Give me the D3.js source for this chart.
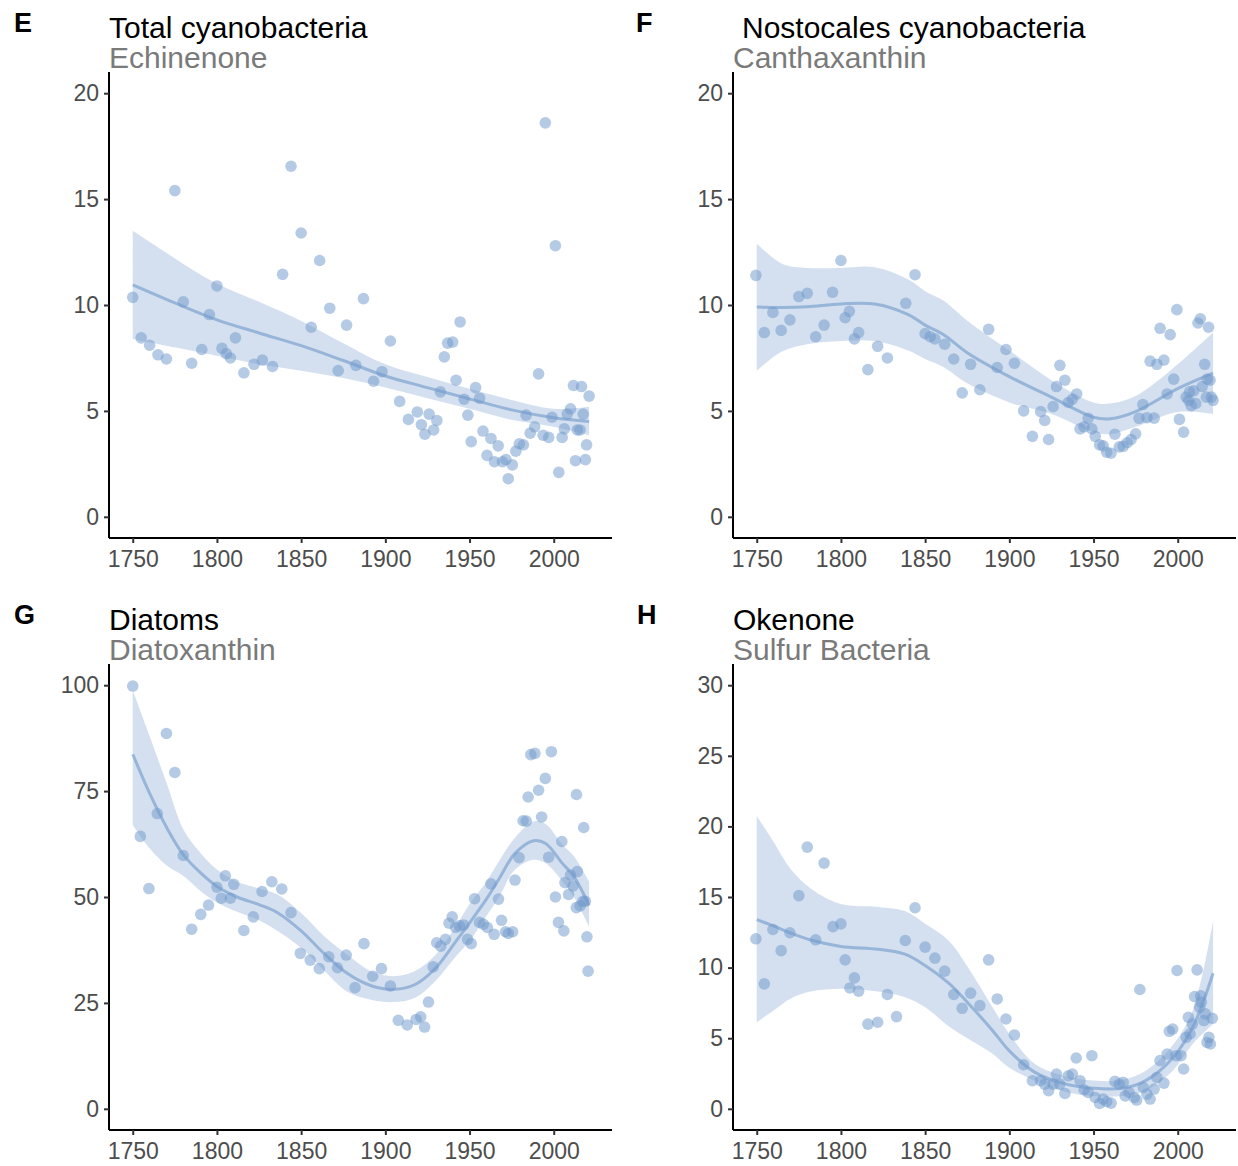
<!DOCTYPE html>
<html>
<head>
<meta charset="utf-8">
<script src="https://cdn.jsdelivr.net/npm/d3@7"></script>
<style>
  body { margin: 0; background: #fff; }
  text { font-family: "Liberation Sans", Arial, Helvetica, sans-serif; }
</style>
</head>
<body>
<svg width="1238" height="1166"></svg>
<script>
/* data: year and pigment value for each sample */

// E: total cyanobacteria / echinenone
let eYears = [1750, 1755, 1760, 1765, 1770, 1775, 1780, 1785, 1791, 1795.5, 1800, 1803, 1805.6, 1808, 1811,
  1816, 1822, 1827, 1833, 1839, 1844, 1850, 1856, 1861, 1867, 1872, 1877, 1882.5, 1887, 1893, 1898, 1903,
  1908.5, 1913.7, 1919, 1921.4, 1923.5, 1926, 1928.7, 1930.6, 1932.7, 1935, 1937, 1940, 1942, 1944.4, 1946.8,
  1949, 1951, 1953.6, 1956, 1958, 1960.4, 1962.7, 1964.8, 1967, 1969.5, 1971.6, 1973, 1975.4, 1977.5, 1979.6,
  1982, 1983.6, 1986, 1988.7, 1991, 1993.7, 1995, 1997, 1999, 2001, 2003, 2005, 2006.3, 2008, 2010, 2011.7,
  2012.9, 2014, 2015.6, 2016.5, 2017.5, 2018.8, 2019.5, 2021];
let eValues = [10.36, 8.45, 8.1, 7.65, 7.45, 15.4, 10.15, 7.25, 7.9, 9.55, 10.9, 7.95, 7.7, 7.5, 8.45,
  6.8, 7.2, 7.4, 7.1, 11.45, 16.55, 13.4, 8.95, 12.1, 9.85, 6.9, 9.05, 7.15, 10.3, 6.4, 6.85, 8.3,
  5.45, 4.6, 4.95, 4.35, 3.9, 4.85, 4.1, 4.55, 5.9, 7.55, 8.2, 8.25, 6.45, 9.2, 5.55,
  4.8, 3.55, 6.1, 5.6, 4.05, 2.9, 3.7, 2.6, 3.35, 2.6, 2.7, 1.8, 2.45, 3.1, 3.45,
  3.4, 4.8, 3.95, 4.25, 6.75, 3.85, 18.6, 3.75, 4.7, 12.8, 2.1, 3.75, 4.15, 4.85, 5.1, 6.2,
  2.65, 4.1, 4.1, 6.15, 4.85, 2.7, 3.4, 5.7];
let eSmoothYears = [1750, 1775, 1800, 1825, 1850, 1875, 1900, 1925, 1950, 1975, 2000, 2021];
let eFit  = [10.95, 10.1, 9.3, 8.68, 8.08, 7.38, 6.65, 6.1, 5.57, 5.05, 4.68, 4.5];
let eLow  = [8.4, 8.0, 7.6, 7.2, 6.9, 6.55, 6.1, 5.6, 5.1, 4.58, 4.25, 3.85];
let eHigh = [13.5, 12.2, 11.0, 10.15, 9.25, 8.2, 7.2, 6.6, 6.05, 5.52, 5.1, 5.2];

// F: nostocales cyanobacteria / canthaxanthin
let fYears = [1749.5, 1754.5, 1759.6, 1764.5, 1769.7, 1775, 1780, 1785, 1790, 1795, 1800, 1802.5, 1805, 1808,
  1810.5, 1816, 1821.8, 1827.6, 1838.5, 1844, 1850, 1853, 1855.8, 1861.6, 1867, 1872, 1877, 1882.5, 1887.7,
  1892.8, 1898, 1903, 1908.5, 1913.7, 1918.6, 1921, 1923.3, 1926, 1928, 1930, 1933, 1935, 1937.4, 1940, 1942,
  1944.4, 1946.8, 1949, 1951, 1953.6, 1955.7, 1957.8, 1960.4, 1962.7, 1965.3, 1967.6, 1970, 1972.3, 1975, 1977,
  1979.3, 1981.7, 1983.6, 1986, 1987.6, 1989.5, 1991.8, 1993.7, 1995.5, 1997.6, 1999.5, 2001, 2003.5, 2005,
  2006.5, 2007, 2008, 2009.5, 2010.7, 2012, 2013.4, 2014.5, 2016, 2017, 2017.5, 2018.3, 2019.2, 2020, 2021];
let fValues = [11.4, 8.7, 9.65, 8.8, 9.3, 10.4, 10.55, 8.5, 9.05, 10.6, 12.1, 9.4, 9.7, 8.4,
  8.7, 6.95, 8.05, 7.5, 10.08, 11.43, 8.65, 8.5, 8.4, 8.15, 7.45, 5.85, 7.2, 6.0, 8.85,
  7.05, 7.9, 7.25, 5.0, 3.8, 4.97, 4.55, 3.65, 5.2, 6.15, 7.15, 6.45, 5.4, 5.55, 5.8, 4.15,
  4.25, 4.65, 4.15, 3.8, 3.4, 3.35, 3.05, 3.0, 3.9, 3.3, 3.33, 3.5, 3.65, 3.92, 4.65,
  5.3, 4.68, 7.35, 4.66, 7.2, 8.9, 7.4, 5.8, 8.6, 6.5, 9.78, 4.6, 4.0, 5.65,
  5.5, 5.9, 5.25, 5.95, 5.35, 9.15, 9.35, 6.15, 7.2, 5.65, 6.5, 8.95, 6.45, 5.65, 5.5];
let fSmoothYears = [1750, 1765, 1780, 1800, 1820, 1840, 1850, 1861, 1875, 1900, 1925, 1950, 1960, 1975, 2000, 2021];
let fFit  = [9.9, 9.88, 9.92, 10.05, 10.05, 9.55, 9.05, 8.6, 7.75, 6.62, 5.65, 4.7, 4.63, 4.97, 6.05, 6.78];
let fLow  = [6.9, 7.8, 8.15, 8.3, 8.3, 7.85, 7.45, 7.06, 6.3, 5.4, 4.85, 4.0, 3.9, 4.25, 4.95, 4.85];
let fHigh = [12.9, 11.95, 11.75, 11.75, 11.78, 11.2, 10.65, 10.2, 9.26, 7.85, 6.45, 5.4, 5.35, 5.7, 7.2, 8.7];

// G: diatoms / diatoxanthin
let gYears = [1750, 1754.5, 1759.6, 1764.6, 1770, 1775, 1780, 1785, 1790.4, 1795, 1800, 1802.6, 1805, 1808,
  1810, 1816, 1821.6, 1826.8, 1832.6, 1838.5, 1844, 1849.5, 1855.4, 1860.8, 1866.4, 1871.6, 1876.8, 1882,
  1887.3, 1892.5, 1897.7, 1903, 1907.7, 1913, 1918.3, 1921, 1923.3, 1925.6, 1928.4, 1930.5, 1932.9, 1935.7,
  1937.8, 1939.7, 1941.8, 1944, 1946.5, 1948.8, 1951, 1953, 1955.9, 1958.2, 1960.6, 1962.7, 1964.6, 1967.2,
  1969, 1971.4, 1973, 1975.6, 1977, 1979.4, 1981.8, 1983.7, 1984.8, 1986.4, 1988.8, 1991, 1992.8, 1995, 1997,
  1998.6, 2001, 2002.8, 2004.8, 2006, 2006.7, 2008.8, 2010, 2011.5, 2013.4, 2013.5, 2014, 2015.7, 2017.4,
  2017.8, 2018.8, 2019.7, 2020.4];
let gValues = [99.8, 64.3, 52, 69.7, 88.6, 79.4, 59.8, 42.4, 45.9, 48.1, 52.3, 49.7, 55, 49.7,
  53, 42.1, 45.3, 51.3, 53.6, 51.9, 46.3, 36.7, 35.1, 33.1, 35.9, 33.3, 36.3, 28.6,
  39, 31.3, 33.1, 29, 20.9, 19.8, 21.1, 21.7, 19.3, 25.2, 33.5, 39.2, 38.4, 40,
  43.8, 45.3, 42.8, 43.2, 43.4, 40, 39, 49.6, 44, 43.6, 42.8, 53.1, 41.2, 49.5,
  44.5, 41.8, 41.4, 41.8, 54, 59.3, 68, 67.9, 73.6, 83.6, 83.9, 75.2, 68.9, 78, 59.4,
  84.3, 50, 44, 63.1, 42, 53.4, 50.6, 55.2, 52.6, 47.5, 74.2, 56, 47.9, 49,
  66.4, 49, 40.6, 32.5];
let gSmoothYears = [1750, 1760, 1770, 1780, 1790, 1800, 1812, 1825, 1836, 1850, 1864, 1878, 1892, 1905, 1918,
  1930, 1942, 1950, 1960, 1968, 1977, 1988, 1995, 2005, 2012, 2021];
let gFit  = [83.7, 74.5, 66.5, 60, 55.8, 52.5, 50, 48.2, 46.3, 42, 36.5, 31.8, 29, 28.2, 29.4,
  33.3, 39.6, 43.9, 49.5, 54.6, 60.3, 63.3, 62.7, 58, 54.8, 48];
let gLow  = [67, 61.5, 57.5, 55, 51.5, 48.7, 46.5, 44.5, 42, 38, 32.5, 27.5, 25.7, 25.2, 26.3,
  30.3, 36, 39.6, 45.5, 50.3, 56.5, 58.8, 58, 53.8, 50, 43];
let gHigh = [98.8, 88, 77, 66, 60.5, 56.5, 53.6, 52, 50.6, 46.2, 40.6, 36.2, 32.4, 31.3, 32.6,
  36.4, 43.3, 48.3, 53.6, 58.8, 64, 67.8, 67.3, 62.4, 59.6, 53.6];

// H: okenone / sulfur bacteria
let hYears = [1749.5, 1754.5, 1759.6, 1764.5, 1769.7, 1775, 1780, 1785, 1790, 1795.3, 1800, 1802.5, 1805.3,
  1808, 1810.5, 1816, 1821.8, 1827.6, 1833, 1838.2, 1844, 1850, 1855.8, 1861.6, 1867, 1872, 1877, 1882.5,
  1887.7, 1892.8, 1898, 1903, 1908.5, 1913.7, 1918.6, 1921, 1923.3, 1926, 1928, 1930, 1933, 1935, 1937.4,
  1939.7, 1942, 1944.4, 1946.8, 1949, 1951, 1953.6, 1955.7, 1957.8, 1960.4, 1962.7, 1965.3, 1967.6, 1968.8,
  1971, 1974.2, 1975.6, 1977.5, 1979.6, 1981.7, 1983.6, 1986, 1987.6, 1989.5, 1991.8, 1993.7, 1995, 1997,
  1999, 1999.6, 2002, 2003.5, 2005, 2006.3, 2007.3, 2008.7, 2010, 2011.5, 2013, 2013.6, 2014, 2015.5, 2016.4,
  2017.4, 2018.5, 2019.4, 2020.5];
let hValues = [12.04, 8.85, 12.7, 11.2, 12.47, 15.1, 18.53, 11.97, 17.4, 12.9, 13.1, 10.55, 8.56,
  9.27, 8.33, 6.0, 6.13, 8.1, 6.53, 11.92, 14.24, 11.45, 10.67, 9.75, 8.1, 7.12, 8.19, 7.31,
  10.55, 7.78, 6.36, 5.23, 3.12, 1.99, 1.99, 1.75, 1.28, 1.75, 2.46, 1.75, 1.09, 2.34, 2.46,
  3.6, 1.99, 1.35, 1.16, 3.76, 0.8, 0.38, 0.69, 0.5, 0.4, 1.94, 1.75, 1.87, 0.92,
  1.16, 0.8, 0.62, 8.45, 1.51, 1.04, 0.69, 1.4, 2.22, 3.41, 1.82, 3.88, 5.49, 5.65,
  3.76, 9.8, 3.76, 2.82, 5.06, 6.48, 5.3, 6.0, 7.95, 9.84, 7.19, 8.0, 7.55, 6.25, 6.72,
  4.7, 5.06, 4.59, 6.41];
let hSmoothYears = [1750, 1760, 1770, 1782, 1800, 1822, 1838, 1850, 1864, 1875, 1890, 1900, 1915, 1932,
  1950, 1967, 1981, 1997, 2009, 2021];
let hFit  = [13.4, 12.95, 12.45, 11.95, 11.5, 11.3, 10.95, 10.15, 8.9, 7.55, 5.55, 4.1, 2.6, 1.8,
  1.45, 1.45, 2.0, 3.6, 5.8, 9.6];
let hLow  = [6.13, 6.96, 7.8, 8.3, 8.5, 8.3, 7.9, 7.19, 5.85, 5.0, 3.9, 2.9, 2.0, 1.25,
  0.9, 0.9, 1.3, 2.7, 4.6, 6.0];
let hHigh = [20.73, 18.9, 17.0, 15.6, 14.5, 14.3, 14.0, 13.1, 11.9, 10.1, 7.2, 5.3, 3.2, 2.35,
  2.0, 2.05, 2.7, 4.5, 7.0, 13.3];

// x ticks shared by all panels, y ticks per panel
let yearTicks = [1750, 1800, 1850, 1900, 1950, 2000];
let ticks20 = [0, 5, 10, 15, 20];
let ticks100 = [0, 25, 50, 75, 100];
let ticks30 = [0, 5, 10, 15, 20, 25, 30];

let panels = [
  { letter: "E", title: "Total cyanobacteria", subtitle: "Echinenone", left: 109, top: 72, letterX: 14,
    years: eYears, values: eValues, sYears: eSmoothYears, fit: eFit, low: eLow, high: eHigh,
    yDomain: [-1, 21], yTicks: ticks20, titleShift: 0 },
  { letter: "F", title: "Nostocales cyanobacteria", subtitle: "Canthaxanthin", left: 733, top: 72, letterX: 636,
    years: fYears, values: fValues, sYears: fSmoothYears, fit: fFit, low: fLow, high: fHigh,
    yDomain: [-1, 21], yTicks: ticks20, titleShift: 9 },
  { letter: "G", title: "Diatoms", subtitle: "Diatoxanthin", left: 109, top: 664, letterX: 14,
    years: gYears, values: gValues, sYears: gSmoothYears, fit: gFit, low: gLow, high: gHigh,
    yDomain: [-5, 105], yTicks: ticks100, titleShift: 0 },
  { letter: "H", title: "Okenone", subtitle: "Sulfur Bacteria", left: 733, top: 664, letterX: 637,
    years: hYears, values: hValues, sYears: hSmoothYears, fit: hFit, low: hLow, high: hHigh,
    yDomain: [-1.5, 31.5], yTicks: ticks30, titleShift: 0 }
];

let plotWidth = 503;
let plotHeight = 466;
let baseColor = "#7199cb";

let svg = d3.select("svg");
svg.append("rect").attr("width", 1238).attr("height", 1166).attr("fill", "#fff");

let drawPanel = function(p) {
  let g = svg.append("g").attr("transform", "translate(" + p.left + "," + p.top + ")");

  // ggplot style: 5% padding around the year range
  let x = d3.scaleLinear().domain([1735.9, 2034.6]).range([0, plotWidth]);
  let y = d3.scaleLinear().domain(p.yDomain).range([plotHeight, 0]);

  // panel letter, title and subtitle
  svg.append("text")
    .attr("x", p.letterX).attr("y", p.top - 40)
    .attr("font-size", 27).attr("font-weight", "bold").attr("fill", "#000")
    .text(p.letter);
  svg.append("text")
    .attr("x", p.left + p.titleShift).attr("y", p.top - 34)
    .attr("font-size", 30).attr("fill", "#000")
    .text(p.title);
  svg.append("text")
    .attr("x", p.left).attr("y", p.top - 4)
    .attr("font-size", 30).attr("fill", "#7a7a7a")
    .text(p.subtitle);

  // points
  let pts = p.years.map((yr, i) => [yr, p.values[i]]);
  g.append("g").selectAll("circle")
    .data(pts)
    .enter().append("circle")
    .attr("cx", d => x(d[0]))
    .attr("cy", d => y(d[1]))
    .attr("r", 5.8)
    .attr("fill", baseColor)
    .attr("fill-opacity", 0.52);

  // smooth with confidence band
  let sm = p.sYears.map((yr, i) => ({ year: yr, fit: p.fit[i], low: p.low[i], high: p.high[i] }));
  let area = d3.area()
    .x(d => x(d.year))
    .y0(d => y(d.low))
    .y1(d => y(d.high))
    .curve(d3.curveCatmullRom.alpha(0.5));
  g.append("path").datum(sm)
    .attr("d", area)
    .attr("fill", baseColor)
    .attr("fill-opacity", 0.3);
  let line = d3.line()
    .x(d => x(d.year))
    .y(d => y(d.fit))
    .curve(d3.curveCatmullRom.alpha(0.5));
  g.append("path").datum(sm)
    .attr("d", line)
    .attr("fill", "none")
    .attr("stroke", baseColor)
    .attr("stroke-opacity", 0.62)
    .attr("stroke-width", 3);

  // axes
  let xAxis = d3.axisBottom(x).tickValues(yearTicks).tickFormat(d3.format("d")).tickSize(5).tickPadding(8);
  let yAxis = d3.axisLeft(y).tickValues(p.yTicks).tickSize(5).tickPadding(5);

  let xGroup = g.append("g").attr("transform", "translate(0," + plotHeight + ")").call(xAxis);
  let yGroup = g.append("g").call(yAxis);

  [xGroup, yGroup].forEach(ax => {
    ax.select(".domain").attr("stroke", "#000").attr("stroke-width", 2)
      .attr("d", ax === xGroup ? "M0,0H" + plotWidth : "M0," + plotHeight + "V0");
    ax.selectAll(".tick line").attr("stroke", "#333").attr("stroke-width", 2);
    ax.selectAll(".tick text")
      .attr("fill", "#4d4d4d")
      .attr("font-size", 23)
      .attr("font-family", "\"Liberation Sans\", Arial, Helvetica, sans-serif");
  });
};

panels.forEach(drawPanel);
</script>
</body>
</html>
